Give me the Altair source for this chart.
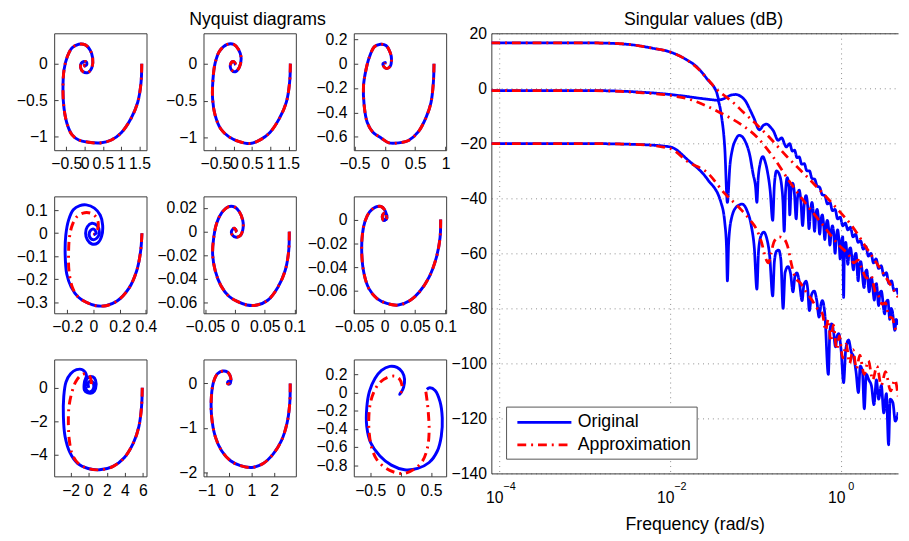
import altair as alt
import pandas as pd

FONT = "Liberation Sans"
BLUE = "#0000ff"
RED = "#ff0000"
FRAME = "#3a3a3a"
DASH = [9, 5, 2, 5]
SERIES = ["Original", "Approximation"]

nyq1_orig = [(1.56, 0), (1.54, -0.26), (1.45, -0.53), (1.27, -0.75), (1.0, -0.95), (0.73, -1.05),
             (0.42, -1.09), (0.11, -1.08), (-0.16, -1.05), (-0.34, -0.98), (-0.47, -0.84), (-0.56, -0.62),
             (-0.59, -0.35), (-0.56, -0.08), (-0.47, 0.10), (-0.34, 0.22), (-0.16, 0.27), (0.02, 0.26),
             (0.15, 0.19), (0.22, 0.08), (0.20, -0.05), (0.09, -0.12), (-0.04, -0.11), (-0.11, -0.05),
             (-0.07, 0.02), (0.04, 0.03), (0.06, -0.01), (0.0, -0.03), (0.0, 0.0)]
nyq1_appr = nyq1_orig

nyq2_orig = [(1.55, 0), (1.53, -0.25), (1.44, -0.52), (1.25, -0.74), (0.99, -0.93), (0.72, -1.03),
             (0.45, -1.08), (0.13, -1.05), (-0.13, -0.99), (-0.36, -0.88), (-0.51, -0.70), (-0.58, -0.48),
             (-0.57, -0.21), (-0.51, 0.01), (-0.39, 0.17), (-0.18, 0.26), (0.0, 0.26), (0.13, 0.19),
             (0.20, 0.08), (0.15, -0.05), (0.04, -0.11), (-0.07, -0.08), (-0.09, -0.01), (-0.02, 0.03),
             (0.04, 0.0), (0.0, -0.01)]
nyq2_appr = nyq2_orig

nyq3_orig = [(0.81, 0), (0.80, -0.15), (0.76, -0.32), (0.68, -0.44), (0.55, -0.56), (0.39, -0.63),
             (0.23, -0.65), (0.07, -0.65), (-0.06, -0.61), (-0.20, -0.56), (-0.29, -0.48), (-0.34, -0.34),
             (-0.35, -0.18), (-0.31, -0.05), (-0.25, 0.06), (-0.17, 0.14), (-0.07, 0.16), (0.02, 0.15),
             (0.09, 0.09), (0.11, 0.04), (0.09, -0.02), (0.03, -0.04), (-0.02, -0.02), (-0.03, 0.0),
             (0.01, 0.01), (0.0, 0.0)]
nyq3_appr = nyq3_orig

nyq4_orig = [(0.37, 0), (0.36, -0.078), (0.33, -0.163), (0.27, -0.24), (0.18, -0.295), (0.095, -0.315),
             (0.02, -0.315), (-0.055, -0.30), (-0.117, -0.277), (-0.17, -0.234), (-0.204, -0.177),
             (-0.216, -0.092), (-0.211, -0.007), (-0.19, 0.057), (-0.154, 0.102), (-0.104, 0.12),
             (-0.055, 0.123), (0.007, 0.109), (0.052, 0.078), (0.07, 0.035), (0.062, -0.014),
             (0.032, -0.043), (-0.012, -0.047), (-0.047, -0.028), (-0.06, 0.0), (-0.047, 0.028),
             (-0.012, 0.043), (0.027, 0.033), (0.045, 0.004), (0.027, -0.021), (-0.005, -0.028),
             (-0.03, -0.014), (-0.025, 0.01), (0.002, 0.018), (0.02, 0.0), (0.0, -0.007)]
nyq4_appr = [(0.37, 0), (0.36, -0.078), (0.33, -0.163), (0.27, -0.24), (0.18, -0.295), (0.095, -0.315),
             (0.02, -0.315), (-0.055, -0.30), (-0.117, -0.277), (-0.162, -0.234), (-0.187, -0.163),
             (-0.19, -0.092), (-0.184, -0.021), (-0.162, 0.035), (-0.122, 0.074), (-0.067, 0.089),
             (-0.012, 0.085), (0.027, 0.064), (0.037, 0.035), (0.027, 0.01), (0.007, -0.001), (0.0, 0.0)]

nyq5_orig = [(0.091, 0), (0.090, -0.0166), (0.084, -0.0331), (0.072, -0.0469), (0.055, -0.058),
             (0.037, -0.062), (0.020, -0.062), (0.004, -0.059), (-0.010, -0.0546), (-0.0235, -0.0455),
             (-0.0328, -0.0331), (-0.0372, -0.0193), (-0.0355, -0.0055), (-0.0306, 0.0069),
             (-0.0219, 0.016), (-0.011, 0.021), (0.0, 0.0207), (0.0077, 0.0166), (0.0131, 0.0097),
             (0.0137, 0.0028), (0.0093, -0.0033), (0.0022, -0.0047), (-0.0044, -0.0028),
             (-0.0055, 0.0006), (-0.0011, 0.0028), (0.0022, 0.0006), (0.0, 0.0)]
nyq5_appr = nyq5_orig

nyq6_orig = [(0.092, 0), (0.091, -0.0152), (0.085, -0.0318), (0.073, -0.0484), (0.057, -0.0609),
             (0.041, -0.0683), (0.0225, -0.0719), (0.0037, -0.0705), (-0.0123, -0.0664),
             (-0.0257, -0.0581), (-0.0337, -0.0456), (-0.0374, -0.029), (-0.0364, -0.0124),
             (-0.0321, -0.0014), (-0.0246, 0.0064), (-0.015, 0.0105), (-0.0059, 0.011), (0.0, 0.0083),
             (0.0027, 0.0041), (0.0016, 0.0), (-0.0016, -0.0008), (-0.0037, 0.0028), (0.0, 0.0055),
             (0.0037, 0.0036), (0.0027, 0.0), (0.0, 0.0014)]
nyq6_appr = nyq6_orig

nyq7_orig = [(5.93, 0), (5.85, -1.12), (5.56, -2.29), (4.95, -3.27), (3.93, -4.16), (2.65, -4.69),
             (1.2, -4.88), (-0.07, -4.8), (-1.24, -4.49), (-2.07, -3.86), (-2.62, -2.88), (-2.8, -1.71),
             (-2.76, -0.53), (-2.51, 0.35), (-2.0, 0.84), (-1.35, 1.08), (-0.69, 1.08), (-0.25, 0.75),
             (-0.47, 0.35), (-0.47, -0.14), (-0.15, -0.29), (0.44, -0.29), (0.76, -0.04), (0.76, 0.45),
             (0.47, 0.65), (0.0, 0.65), (-0.33, 0.35), (-0.29, -0.1), (0.04, -0.24), (0.44, -0.14),
             (0.55, 0.2), (0.25, 0.41), (-0.04, 0.29), (0.0, 0.0)]
nyq7_appr = [(5.93, 0), (5.85, -1.12), (5.56, -2.29), (4.95, -3.27), (3.93, -4.16), (2.65, -4.69),
             (1.2, -4.88), (-0.07, -4.8), (-1.16, -4.49), (-1.82, -3.96), (-2.15, -3.08), (-2.25, -2.1),
             (-2.18, -1.12), (-1.89, -0.33), (-1.45, 0.35), (-0.87, 0.75), (-0.33, 0.84), (0.11, 0.69),
             (0.29, 0.35), (0.22, 0.06), (0.0, 0.0)]

nyq8_orig = [(2.72, 0), (2.7, -0.44), (2.58, -0.89), (2.32, -1.3), (1.96, -1.59), (1.52, -1.8),
             (1.01, -1.89), (0.51, -1.85), (0.07, -1.74), (-0.32, -1.52), (-0.61, -1.19), (-0.77, -0.74),
             (-0.78, -0.3), (-0.68, 0.04), (-0.51, 0.22), (-0.26, 0.28), (-0.07, 0.26), (0.04, 0.19),
             (0.09, 0.07), (0.03, -0.01), (-0.06, 0.0), (-0.03, 0.05), (0.06, 0.03), (0.0, 0.0)]
nyq8_appr = nyq8_orig

nyq9_orig = [(0.432, 0.036), (0.481, 0.055), (0.568, 0.025), (0.649, -0.098), (0.686, -0.28),
             (0.67, -0.48), (0.605, -0.644), (0.47, -0.771), (0.281, -0.836), (0.065, -0.851),
             (-0.151, -0.8), (-0.34, -0.698), (-0.492, -0.553), (-0.557, -0.371), (-0.557, -0.171),
             (-0.514, 0.011), (-0.422, 0.156), (-0.314, 0.247), (-0.178, 0.291), (-0.059, 0.28),
             (0.027, 0.229), (0.065, 0.149), (0.049, 0.058), (0.011, 0.004), (-0.016, -0.018), (0.0, 0.0)]
nyq9_appr = [(0.416, 0.011), (0.438, -0.098), (0.459, -0.244), (0.47, -0.425), (0.443, -0.607),
             (0.362, -0.753), (0.227, -0.844), (0.065, -0.891), (-0.097, -0.88), (-0.259, -0.825),
             (-0.395, -0.735), (-0.476, -0.607), (-0.514, -0.462), (-0.524, -0.298), (-0.503, -0.135),
             (-0.438, 0.011), (-0.341, 0.113), (-0.222, 0.167), (-0.097, 0.182), (-0.016, 0.149),
             (0.022, 0.084), (0.011, 0.011), (0.0, 0.0)]

# axis ranges and tick labels of each panel
nyq_xdom = [[-0.83, 1.69], [-0.83, 1.70], [-0.51, 1.01],
            [-0.30, 0.405], [-0.0525, 0.102], [-0.0505, 0.101],
            [-3.82, 6.4], [-1.13, 2.97], [-0.77, 0.75]]
nyq_ydom = [[-1.19, 0.42], [-1.17, 0.41], [-0.71, 0.25],
            [-0.348, 0.16], [-0.069, 0.0298], [-0.0788, 0.0195],
            [-5.27, 1.69], [-2.09, 0.54], [-0.924, 0.367]]
nyq_xticks = [[-0.5, 0, 0.5, 1, 1.5], [-0.5, 0, 0.5, 1, 1.5], [-0.5, 0, 0.5, 1],
              [-0.2, 0, 0.2, 0.4], [-0.05, 0, 0.05, 0.1], [-0.05, 0, 0.05, 0.1],
              [-2, 0, 2, 4, 6], [-1, 0, 1, 2], [-0.5, 0, 0.5]]
nyq_yticks = [[0, -0.5, -1], [0, -0.5, -1], [0.2, 0, -0.2, -0.4, -0.6],
              [0.1, 0, -0.1, -0.2, -0.3], [0.02, 0, -0.02, -0.04, -0.06], [0, -0.02, -0.04, -0.06],
              [0, -2, -4], [0, -1, -2], [0.2, 0, -0.2, -0.4, -0.6, -0.8]]
nyq_orig = [nyq1_orig, nyq2_orig, nyq3_orig, nyq4_orig, nyq5_orig, nyq6_orig, nyq7_orig, nyq8_orig, nyq9_orig]
nyq_appr = [nyq1_appr, nyq2_appr, nyq3_appr, nyq4_appr, nyq5_appr, nyq6_appr, nyq7_appr, nyq8_appr, nyq9_appr]

# ---------------- Singular values: (log10 frequency, dB) ----------------
sv1_orig = [(-4.092, 16.5), (-3.5, 16.5), (-3.0, 16.5), (-2.785, 16.45), (-2.6, 16.2), (-2.44, 15.8),
            (-2.21, 14.6), (-2.0, 13.2), (-1.83, 10.8), (-1.67, 7.25), (-1.56, 3.1), (-1.46, -1.1),
            (-1.425, -4.2), (-1.36, -3.6), (-1.30, -2.6), (-1.233, -2.25), (-1.17, -3.0), (-1.118, -4.6),
            (-1.07, -7.5), (-1.023, -10.6), (-0.954, -15.1), (-0.91, -13.5), (-0.87, -13.0), (-0.83, -14.0),
            (-0.793, -15.4), (-0.736, -18.9), (-0.697, -18.0), (-0.64, -21.3), (-0.601, -20.1),
            (-0.57, -22.8), (-0.544, -22.5), (-0.515, -25.2), (-0.49, -24.9), (-0.46, -27.6),
            (-0.43, -27.4), (-0.40, -30.0), (-0.37, -30.0), (-0.34, -32.8), (-0.31, -33.0), (-0.28, -35.5),
            (-0.25, -36.0), (-0.22, -38.7), (-0.19, -39.0), (-0.16, -42.0), (-0.13, -41.5), (-0.10, -44.5),
            (-0.07, -44.0), (-0.04, -47.5), (-0.01, -46.8), (0.02, -50.0), (0.05, -49.0), (0.08, -51.5),
            (0.11, -50.5), (0.14, -54.0), (0.17, -53.0), (0.20, -56.0), (0.23, -55.5), (0.26, -58.5),
            (0.29, -57.5), (0.32, -61.0), (0.35, -60.0), (0.38, -63.5), (0.41, -62.0), (0.44, -65.5),
            (0.47, -64.5), (0.50, -68.0), (0.53, -67.0), (0.56, -71.0), (0.59, -70.0), (0.62, -73.5),
            (0.65, -73.0), (0.667, -75.0)]
sv2_orig = [(-4.092, -0.8), (-3.0, -0.8), (-2.4, -1.3), (-2.0, -2.25), (-1.8, -3.0), (-1.636, -3.7),
            (-1.5, -4.2), (-1.445, -4.4), (-1.40, -10.0), (-1.36, -22.0), (-1.33, -41.5), (-1.30, -28.0),
            (-1.27, -22.0), (-1.23, -18.5), (-1.195, -17.1), (-1.16, -17.5), (-1.118, -19.5),
            (-1.07, -24.0), (-1.03, -31.0), (-1.0, -36.0), (-0.985, -41.5), (-0.97, -33.0),
            (-0.946, -27.3), (-0.916, -24.8), (-0.89, -26.5), (-0.86, -30.5), (-0.83, -37.0),
            (-0.80, -48.0), (-0.78, -35.0), (-0.755, -30.0), (-0.72, -31.5), (-0.697, -35.0),
            (-0.68, -41.0), (-0.665, -52.0), (-0.65, -38.0), (-0.63, -32.5), (-0.61, -36.0), (-0.6, -46.0),
            (-0.585, -37.0), (-0.565, -34.5), (-0.545, -38.5), (-0.525, -47.5), (-0.51, -40.0),
            (-0.49, -37.0), (-0.47, -41.0), (-0.45, -49.9), (-0.43, -42.0), (-0.41, -39.0), (-0.39, -43.0),
            (-0.375, -51.0), (-0.355, -44.0), (-0.34, -41.5), (-0.325, -45.0), (-0.31, -52.0),
            (-0.295, -46.0), (-0.28, -44.0), (-0.265, -47.0), (-0.25, -53.0), (-0.235, -48.0),
            (-0.22, -46.0), (-0.205, -49.0), (-0.19, -55.0), (-0.175, -50.0), (-0.16, -48.0),
            (-0.145, -51.0), (-0.13, -57.0), (-0.115, -52.0), (-0.10, -50.0), (-0.085, -53.0),
            (-0.07, -60.0), (-0.055, -54.0), (-0.04, -51.5), (-0.025, -55.0), (-0.01, -62.0),
            (0.005, -56.0), (0.02, -54.0), (0.03, -76.0), (0.04, -58.0), (0.055, -56.0), (0.08, -64.0),
            (0.095, -59.0), (0.11, -58.0), (0.146, -66.0), (0.16, -61.0), (0.175, -60.0), (0.2, -70.0),
            (0.215, -64.0), (0.23, -63.0), (0.27, -72.5), (0.285, -67.0), (0.30, -66.0), (0.33, -74.0),
            (0.345, -69.5), (0.356, -68.9), (0.39, -77.0), (0.40, -72.0), (0.414, -71.0), (0.44, -79.0),
            (0.455, -74.5), (0.471, -73.7), (0.51, -82.0), (0.525, -78.0), (0.548, -77.0), (0.57, -84.0),
            (0.585, -80.0), (0.60, -81.0), (0.63, -88.0), (0.645, -84.0), (0.667, -86.0)]
sv3_orig = [(-4.092, -20.1), (-3.0, -20.1), (-2.4, -20.4), (-2.0, -21.3), (-1.79, -26.1), (-1.56, -33.2),
            (-1.405, -41.5), (-1.36, -49.0), (-1.34, -58.0), (-1.33, -70.0), (-1.315, -56.0), (-1.28, -47.0),
            (-1.22, -43.0), (-1.157, -42.1), (-1.10, -44.5), (-1.05, -50.0), (-1.015, -58.0), (-0.985, -73.0),
            (-0.965, -59.0), (-0.935, -53.5), (-0.905, -52.3), (-0.87, -54.5), (-0.835, -61.0), (-0.8, -75.5),
            (-0.78, -63.0), (-0.755, -59.2), (-0.73, -58.8), (-0.705, -62.0), (-0.678, -80.0), (-0.655, -67.0),
            (-0.621, -64.8), (-0.59, -67.5), (-0.563, -74.0), (-0.54, -68.5), (-0.517, -67.1), (-0.49, -70.0),
            (-0.456, -77.2), (-0.435, -71.5), (-0.41, -70.1), (-0.39, -73.0), (-0.371, -80.8), (-0.345, -75.0),
            (-0.314, -73.7), (-0.285, -77.0), (-0.257, -83.2), (-0.235, -78.5), (-0.218, -77.2), (-0.19, -82.0),
            (-0.149, -104.0), (-0.13, -88.0), (-0.111, -85.6), (-0.09, -88.0), (-0.065, -94.0), (-0.045, -90.0),
            (-0.027, -89.2), (0.0, -95.0), (0.03, -107.0), (0.055, -95.0), (0.088, -91.5), (0.12, -96.0),
            (0.146, -97.5), (0.175, -103.0), (0.203, -110.6), (0.225, -101.0), (0.25, -103.0), (0.272, -116.5),
            (0.295, -104.0), (0.325, -106.0), (0.356, -108.2), (0.385, -115.0), (0.414, -106.0), (0.44, -113.0),
            (0.471, -108.0), (0.5, -118.0), (0.53, -111.0), (0.556, -129.6), (0.575, -113.0), (0.606, -114.2),
            (0.635, -121.0), (0.667, -117.8)]
sv1_appr = [(-4.092, 16.5), (-3.0, 16.5), (-2.785, 16.45), (-2.44, 15.8), (-2.21, 14.6), (-2.0, 13.2),
            (-1.83, 10.8), (-1.67, 7.0), (-1.56, 3.3), (-1.46, -0.3), (-1.35, -3.0), (-1.25, -5.5),
            (-1.15, -8.5), (-1.061, -11.0), (-0.87, -16.8), (-0.64, -24.6), (-0.41, -31.8), (-0.218, -38.0),
            (-0.026, -44.5), (0.126, -50.0), (0.318, -59.0), (0.5, -67.5), (0.667, -76.0)]
sv2_appr = [(-4.092, -0.8), (-3.0, -0.8), (-2.402, -1.5), (-2.0, -2.6), (-1.75, -4.2), (-1.56, -6.6),
            (-1.368, -9.6), (-1.176, -13.0), (-0.985, -17.7), (-0.793, -25.0), (-0.601, -34.0), (-0.41, -42.0),
            (-0.218, -49.5), (-0.026, -57.0), (0.1, -61.0), (0.15, -63.5), (0.2, -62.5), (0.241, -65.4),
            (0.3, -69.0), (0.35, -68.0), (0.4, -74.0), (0.433, -75.0), (0.48, -78.5), (0.52, -78.0),
            (0.56, -83.0), (0.6, -83.5), (0.63, -87.0), (0.667, -88.5)]
sv3_appr = [(-4.092, -20.1), (-3.0, -20.1), (-2.402, -20.4), (-2.0, -21.9), (-1.79, -26.8), (-1.56, -30.8),
            (-1.368, -38.0), (-1.176, -43.9), (-1.061, -48.0), (-0.985, -51.5), (-0.93, -56.0), (-0.88, -62.0),
            (-0.85, -63.5), (-0.82, -60.0), (-0.78, -55.5), (-0.72, -54.0), (-0.66, -55.0), (-0.62, -58.0),
            (-0.58, -64.0), (-0.54, -68.5), (-0.47, -71.0), (-0.41, -74.0), (-0.34, -77.0), (-0.28, -80.0),
            (-0.218, -82.0), (-0.18, -88.0), (-0.15, -84.0), (-0.12, -92.0), (-0.09, -86.0), (-0.05, -95.0),
            (-0.02, -90.0), (0.02, -98.0), (0.06, -93.0), (0.1, -100.0), (0.14, -95.0), (0.18, -102.0),
            (0.22, -97.0), (0.27, -104.0), (0.32, -99.0), (0.37, -106.0), (0.42, -101.0), (0.47, -108.0),
            (0.52, -103.0), (0.58, -110.0), (0.63, -106.0), (0.667, -112.0)]

FREQ_TICKS = [1e-4, 1e-2, 1]
DB_TICKS = [-140, -120, -100, -80, -60, -40, -20, 0, 20]


def nyquist_panel(orig, appr, xdom, ydom, xticks, yticks, title=None):
    rows = [{"re": a, "im": b, "i": k, "s": "o"} for k, (a, b) in enumerate(orig)]
    rows += [{"re": a, "im": b, "i": k, "s": "a"} for k, (a, b) in enumerate(appr)]
    df = pd.DataFrame(rows)
    common = dict(format="~g", title=None, grid=False, domain=False, ticks=True, tickSize=4,
                  offset=-4, labelOverlap=False, labelFlush=False, tickColor=FRAME, tickWidth=1)
    x = alt.X("re:Q", scale=alt.Scale(domain=xdom, nice=False, zero=False),
              axis=alt.Axis(values=xticks, labelPadding=6, **common))
    y = alt.Y("im:Q", scale=alt.Scale(domain=ydom, nice=False, zero=False),
              axis=alt.Axis(values=yticks, labelPadding=7, **common))
    base = alt.Chart(df).encode(x=x, y=y, order="i:Q")
    blue = base.transform_filter(alt.datum.s == "o").mark_line(
        color=BLUE, strokeWidth=3, clip=True, interpolate="catmull-rom")
    red = base.transform_filter(alt.datum.s == "a").mark_line(
        color=RED, strokeWidth=3, strokeDash=DASH, clip=True, interpolate="catmull-rom")
    ch = alt.layer(blue, red).properties(width=94, height=119)
    if title:
        ch = ch.properties(title=alt.TitleParams(title, dx=8, offset=4, fontSize=18, font=FONT,
                                                 fontWeight="normal", anchor="middle", color="#000"))
    return ch


def filler(w):
    return alt.Chart(pd.DataFrame({"v": [0]})).mark_point(opacity=0).encode(
        x=alt.X("v:Q", axis=None), y=alt.Y("v:Q", axis=None)
    ).properties(width=w, height=1, view=alt.ViewBackground(stroke=None))


panels = []
for k in range(9):
    panels.append(nyquist_panel(nyq_orig[k], nyq_appr[k], nyq_xdom[k], nyq_ydom[k],
                                nyq_xticks[k], nyq_yticks[k],
                                title="Nyquist diagrams" if k == 1 else None))

grid9 = alt.concat(panels[0], filler(58), panels[1], filler(59), panels[2],
                   panels[3], filler(58), panels[4], filler(59), panels[5],
                   panels[6], filler(58), panels[7], filler(59), panels[8],
                   columns=5, spacing={"row": 47, "column": 0}, bounds="flush", align="none")

# singular value table
sv_rows = []
for name, pts, ser in [("s1", sv1_orig, "Original"), ("s2", sv2_orig, "Original"), ("s3", sv3_orig, "Original"),
                       ("s1", sv1_appr, "Approximation"), ("s2", sv2_appr, "Approximation"),
                       ("s3", sv3_appr, "Approximation")]:
    for k, (lw, db) in enumerate(pts):
        sv_rows.append({"w": 10 ** lw, "db": db, "series": ser, "curve": name, "i": k})
df_sv = pd.DataFrame(sv_rows)

xs = alt.Scale(type="log", domain=[10 ** -4.092, 10 ** 0.667], nice=False)
ys = alt.Scale(domain=[-140, 20], nice=False, zero=False)
leg = alt.Legend(title=None, orient="none", legendX=15, legendY=380, symbolType="M-3,0H3",
                 symbolSize=336, symbolStrokeWidth=2.8, labelFontSize=18, labelFont=FONT,
                 labelColor="#000", padding=5, symbolOffset=23, labelOffset=23, rowPadding=3,
                 strokeColor="#555555", fillColor="#ffffff", labelLimit=300)
color = alt.Color("series:N", scale=alt.Scale(domain=SERIES, range=[BLUE, RED]), legend=leg)
dash = alt.StrokeDash("series:N", scale=alt.Scale(domain=SERIES, range=[[1, 0], DASH]), legend=leg)

x_bottom = alt.X("w:Q", scale=xs, axis=alt.Axis(
    values=FREQ_TICKS, labelExpr="'10'", labelOffset=-5,
    grid=True, gridDash=[1, 4], gridColor="#8a8a8a", domain=True, domainColor=FRAME, ticks=False,
    labelPadding=17, title="Frequency (rad/s)", titlePadding=10, titleFontWeight="normal",
    titleFontSize=18, labelFontSize=16, labelFlush=False))
y_left = alt.Y("db:Q", scale=ys, axis=alt.Axis(
    values=DB_TICKS, format="d", grid=True, gridDash=[1, 4], gridColor="#8a8a8a", domain=True,
    domainColor=FRAME, ticks=False, labelPadding=5, title=None, labelFontSize=16))

base_sv = alt.Chart(df_sv).encode(y=y_left, color=color, strokeDash=dash, detail="curve:N", order="i:Q")
blue_sv = base_sv.transform_filter(alt.datum.series == "Original").mark_line(
    strokeWidth=2.8, clip=True, interpolate="monotone").encode(x=x_bottom)
red_sv = base_sv.transform_filter(alt.datum.series == "Approximation").mark_line(
    strokeWidth=2.8, clip=True, interpolate="monotone").encode(x=alt.X("w:Q", scale=xs, axis=None))
top_axis = alt.Chart(df_sv).mark_point(opacity=0).encode(
    x=alt.X("w:Q", scale=xs, axis=alt.Axis(orient="top", labels=False, ticks=False, grid=False,
                                           domain=True, domainColor=FRAME, title=None)),
    y=y_left)
exp_axis = alt.Chart(df_sv).mark_point(opacity=0).encode(
    x=alt.X("w:Q", scale=xs, axis=alt.Axis(
        orient="bottom", values=FREQ_TICKS, labelExpr="datum.value < 0.001 ? '−4' : (datum.value < 0.1 ? '−2' : '0')",
        labelFontSize=11, labelPadding=7, labelOffset=10, ticks=False, grid=False, domain=False,
        title=None, labelFlush=False)),
    y=y_left)

right = alt.layer(blue_sv, red_sv, top_axis, exp_axis).resolve_axis(x="independent").properties(
    width=414, height=448, view=alt.ViewBackground(stroke=None),
    title=alt.TitleParams("Singular values (dB)", dx=9, offset=-4, fontSize=18, font=FONT,
                          fontWeight="normal", anchor="middle", color="#000"))

chart = alt.hconcat(grid9, right, spacing=445, bounds="flush")
chart = chart.resolve_scale(color="independent", strokeDash="independent").properties(
    padding={"left": 7, "top": -2, "right": 0, "bottom": 0}
).configure_view(stroke=FRAME, strokeWidth=1).configure_axis(
    labelFont=FONT, titleFont=FONT, labelColor="#000", titleColor="#000", labelFontSize=16
).configure_title(font=FONT)

chart.save("out.html", embed_options={"renderer": "svg", "actions": False})
